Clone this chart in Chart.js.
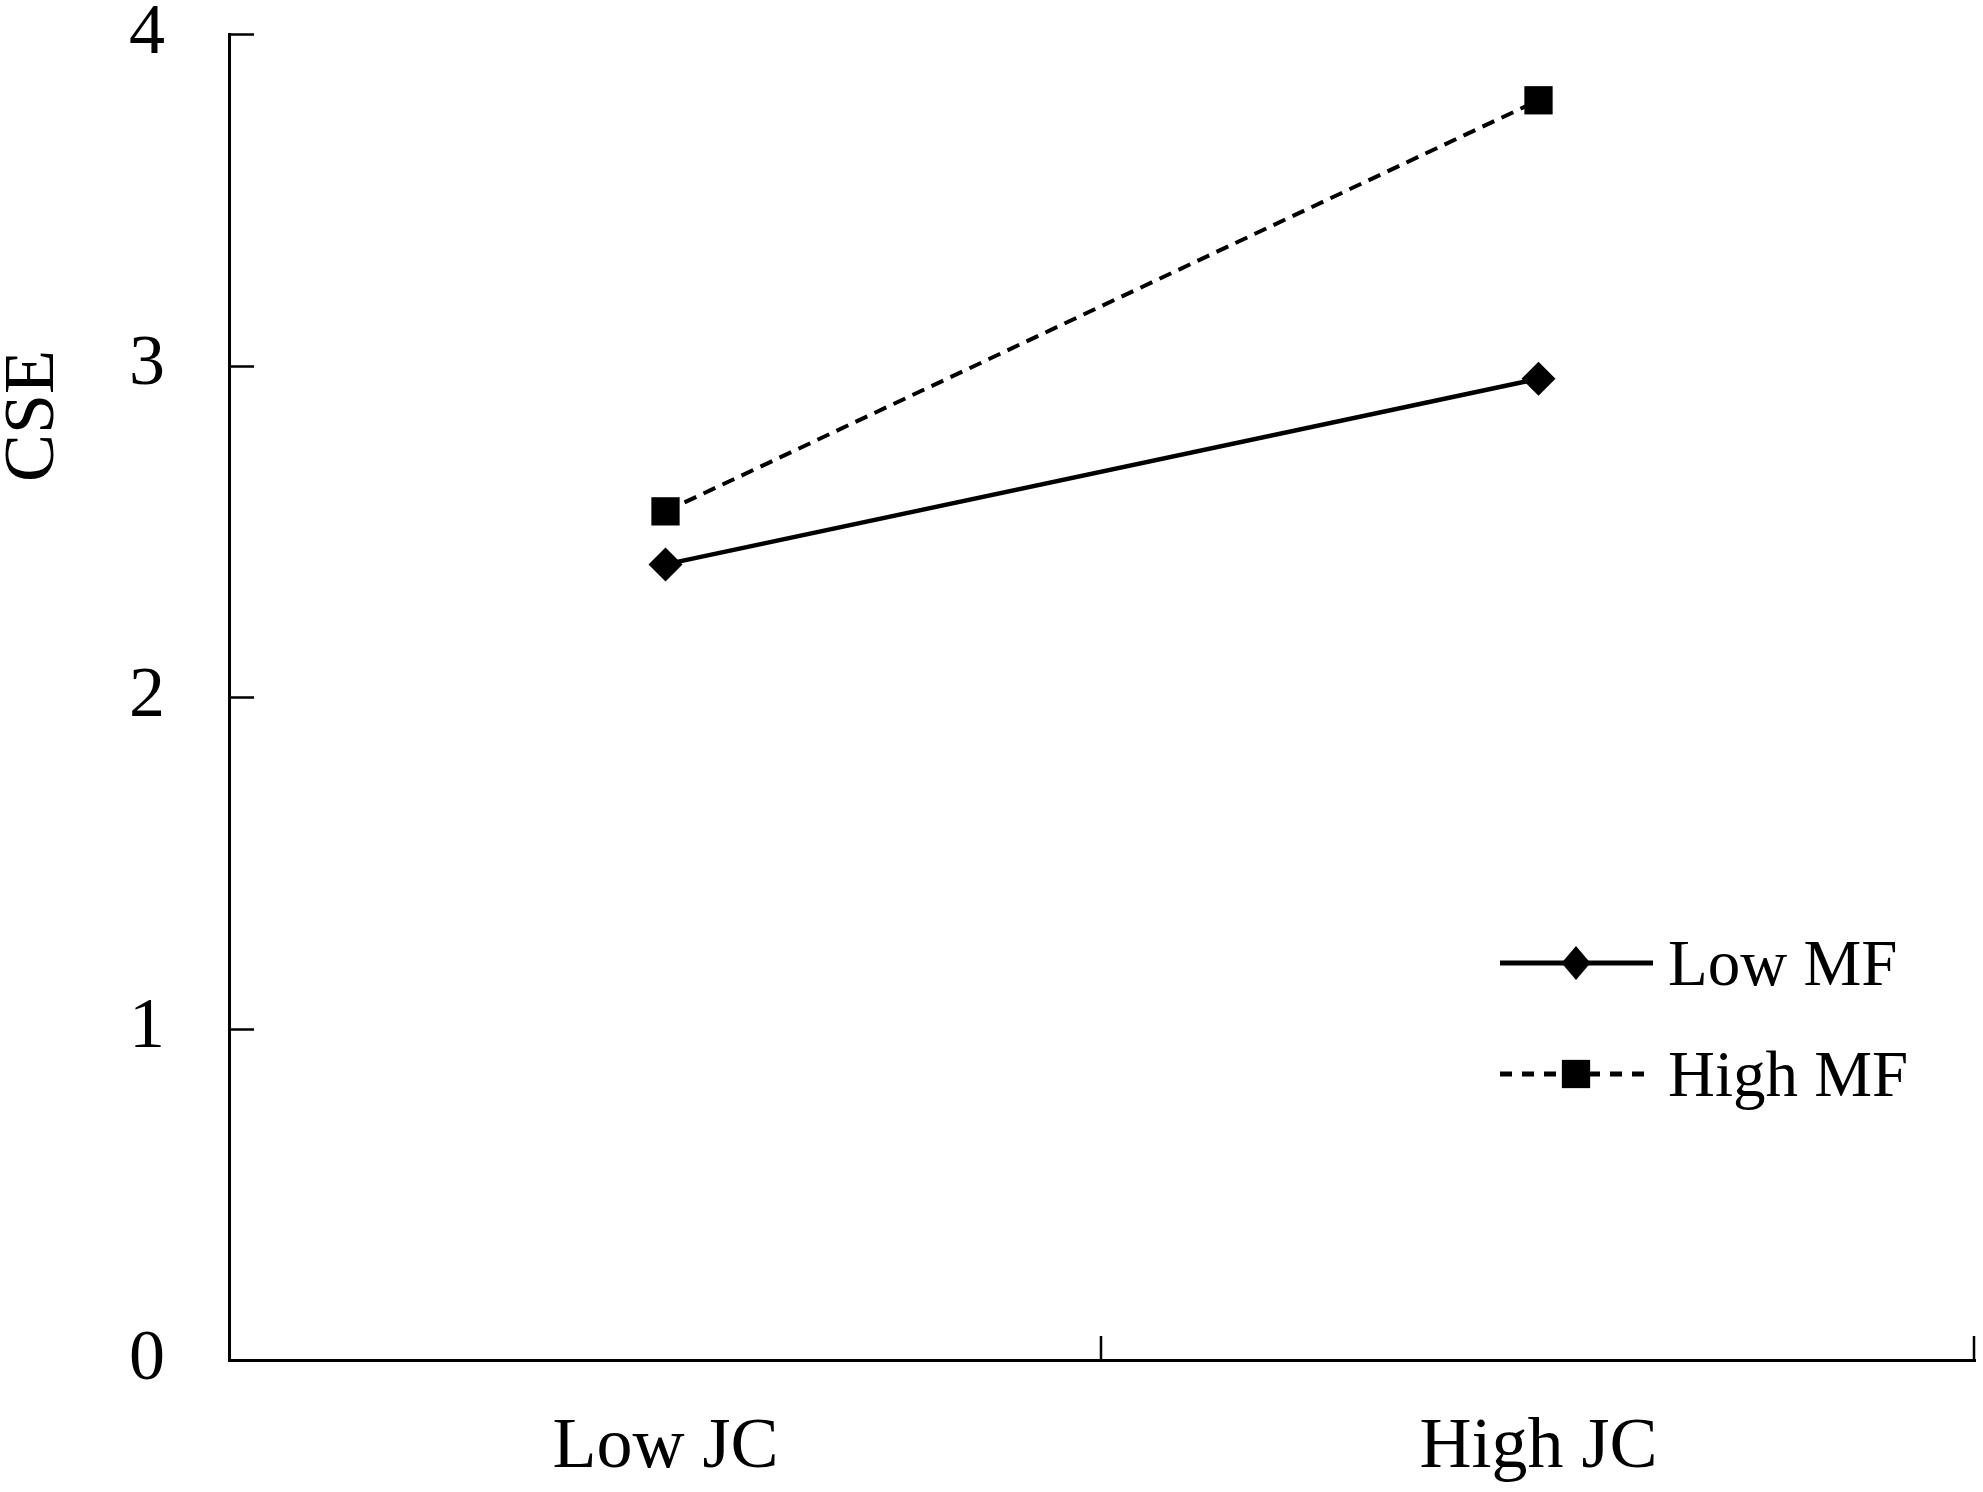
<!DOCTYPE html>
<html>
<head>
<meta charset="utf-8">
<script src="https://cdn.jsdelivr.net/npm/chart.js@4.4.1/dist/chart.umd.min.js"></script>
<style>
  html, body { margin: 0; padding: 0; background: #ffffff; }
  #wrap { width: 1983px; height: 1492px; }
</style>
</head>
<body>
<div id="wrap"><canvas id="c" width="1983" height="1492"></canvas></div>
<script>
const categories = ['Low JC', 'High JC'];
const lowMF = [2.40, 2.96];
const highMF = [2.56, 3.80];
const seriesNames = ['Low MF', 'High MF'];
const yAxisTitle = 'CSE';
const yMin = 0, yMax = 4, yStep = 1;

const FONT = '"Liberation Serif", "Times New Roman", serif';

const innerTicks = {
  id: 'innerTicks',
  afterDraw(chart) {
    const ctx = chart.ctx;
    const ca = chart.chartArea;
    const x = chart.scales.x, y = chart.scales.y;
    ctx.save();
    ctx.strokeStyle = '#000';
    ctx.lineWidth = 2.5;
    ctx.beginPath();
    y.ticks.forEach(t => {
      if (t.value === yMin) return;
      const py = Math.round(y.getPixelForValue(t.value)) + 0.5;
      ctx.moveTo(ca.left, py);
      ctx.lineTo(ca.left + 25, py);
    });
    const n = categories.length;
    const step = x.getPixelForValue(1) - x.getPixelForValue(0);
    for (let i = 0; i < n; i++) {
      const px = Math.round(x.getPixelForValue(i) + step / 2) - 1;
      ctx.moveTo(px, ca.bottom);
      ctx.lineTo(px, ca.bottom - 24);
    }
    ctx.stroke();

    // y-axis title
    ctx.fillStyle = '#000';
    ctx.font = '72px ' + FONT;
    ctx.textAlign = 'center';
    ctx.textBaseline = 'middle';
    ctx.translate(34, 416);
    ctx.rotate(-Math.PI / 2);
    ctx.fillText(yAxisTitle, 0, 0);
    ctx.restore();

    // legend
    ctx.save();
    const rows = [963, 1074];
    chart.data.datasets.forEach((ds, i) => {
      const ry = rows[i];
      ctx.strokeStyle = '#000';
      ctx.lineWidth = 5;
      ctx.setLineDash(ds.legendDash || []);
      ctx.beginPath();
      ctx.moveTo(1500, ry);
      ctx.lineTo(1653, ry);
      ctx.stroke();
      ctx.setLineDash([]);
      ctx.fillStyle = '#000';
      const cx = 1576;
      ctx.beginPath();
      if (ds.pointStyle === 'rectRot') {
        const r = ds.pointRadius;
        ctx.moveTo(cx, ry - r);
        ctx.lineTo(cx + r * 0.85, ry);
        ctx.lineTo(cx, ry + r);
        ctx.lineTo(cx - r * 0.85, ry);
        ctx.closePath();
      } else {
        const h = ds.pointRadius * Math.SQRT1_2;
        ctx.rect(cx - h, ry - h, 2 * h, 2 * h);
      }
      ctx.fill();
      ctx.font = '65px ' + FONT;
      ctx.textAlign = 'left';
      ctx.textBaseline = 'alphabetic';
      ctx.fillText(ds.label, 1668, ry + 22);
    });
    ctx.restore();
  }
};

new Chart(document.getElementById('c'), {
  type: 'line',
  data: {
    labels: categories,
    datasets: [
      {
        label: seriesNames[0],
        data: lowMF,
        borderColor: '#000',
        backgroundColor: '#000',
        borderWidth: 4.5,
        pointStyle: 'rectRot',
        pointRadius: 17,
        pointBackgroundColor: '#000',
        pointBorderColor: '#000',
        pointBorderWidth: 0,
        tension: 0,
        legendDash: []
      },
      {
        label: seriesNames[1],
        data: highMF,
        borderColor: '#000',
        backgroundColor: '#000',
        borderWidth: 4,
        borderDash: [13, 8],
        pointStyle: 'rect',
        pointRadius: 20,
        pointBackgroundColor: '#000',
        pointBorderColor: '#000',
        pointBorderWidth: 0,
        tension: 0,
        legendDash: [12, 10]
      }
    ]
  },
  options: {
    responsive: false,
    devicePixelRatio: 1,
    animation: false,
    layout: { autoPadding: false, padding: { top: 34, right: 8, bottom: 0, left: 0 } },
    plugins: {
      legend: { display: false },
      tooltip: { enabled: false },
      title: { display: false }
    },
    scales: {
      x: {
        type: 'category',
        offset: true,
        grid: { display: false, drawTicks: false },
        border: { display: true, color: '#000', width: 3 },
        ticks: {
          color: '#000',
          font: { family: FONT, size: 72 },
          padding: 45,
          maxRotation: 0,
          autoSkip: false
        },
        afterFit(s) { s.height = 1492 - 1360; s.paddingLeft = 0; s.paddingRight = 0; }
      },
      y: {
        min: yMin,
        max: yMax,
        grid: { display: false, drawTicks: false },
        border: { display: true, color: '#000', width: 3 },
        ticks: {
          stepSize: yStep,
          color: '#000',
          font: { family: FONT, size: 72 },
          padding: 64
        },
        afterFit(s) { s.width = 229; s.paddingTop = 0; s.paddingBottom = 0; }
      }
    }
  },
  plugins: [innerTicks]
});
</script>
</body>
</html>
